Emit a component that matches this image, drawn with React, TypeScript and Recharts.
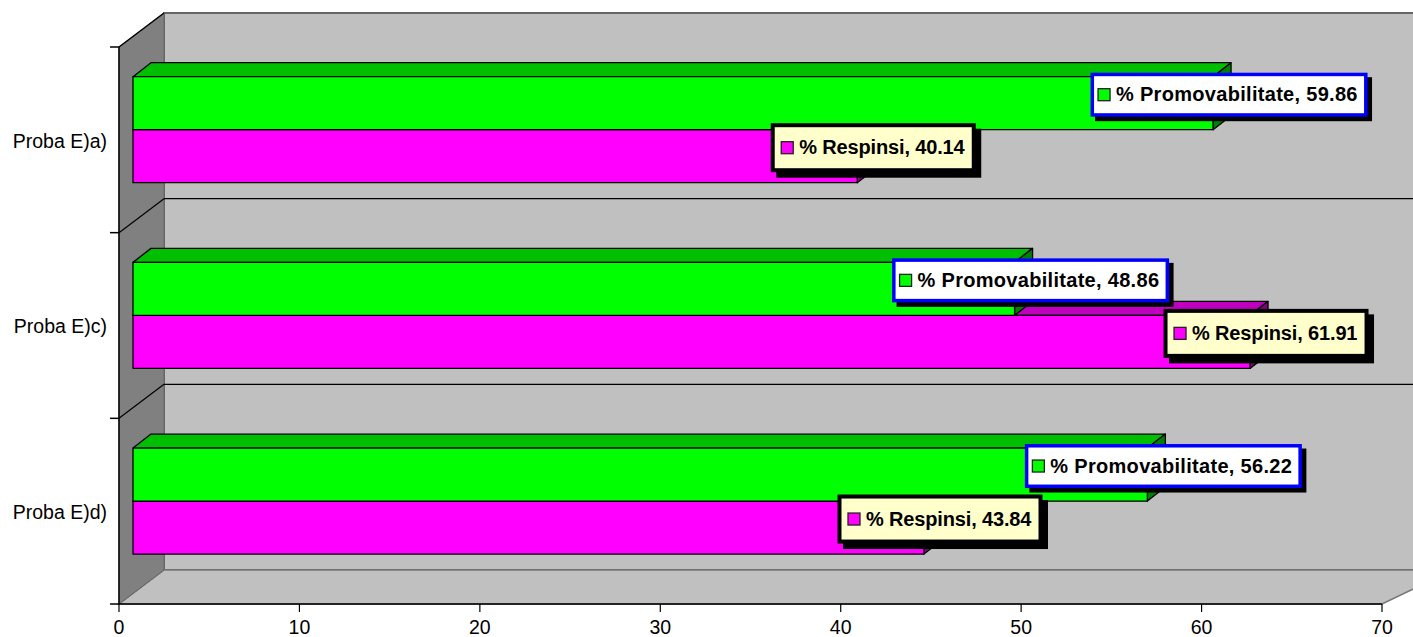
import React from "react";
import { BarChart, Bar, XAxis, YAxis, LabelList } from "recharts";

const categories = ["Proba E)a)", "Proba E)c)", "Proba E)d)"];
const promovabilitate = [59.86, 48.86, 56.22];
const respinsi = [40.14, 61.91, 43.84];
const xTicks = [0, 10, 20, 30, 40, 50, 60, 70];

const data = categories.map((name, i) => ({
  name,
  promovabilitate: promovabilitate[i],
  respinsi: respinsi[i],
}));

const WIDTH = 1413;
const HEIGHT = 637;
const FONT = "'Liberation Sans', Arial, sans-serif";

const LEFT = 119;
const TOP = 47;
const RIGHT = 1382;
const BOTTOM = 604;
// wall depth
const DX = 45;
const DY = 34;
// bar depth and shift off the wall
const BAR_DX = 18;
const BAR_DY = 14;
const SHIFT_X = 14;
const SHIFT_Y = -10.3;

const pts = (...p: number[][]) => p.map((q) => q.join(",")).join(" ");

function Walls() {
  const bandH = (BOTTOM - TOP) / categories.length;
  const inner = [1, 2].map((i) => TOP + bandH * i);
  return (
    <g>
      <rect x={LEFT + DX} y={TOP - DY} width={WIDTH - LEFT - DX + 10} height={BOTTOM - TOP} fill="#c0c0c0" stroke="#666" strokeWidth={2} />
      <polygon points={pts([LEFT, BOTTOM], [LEFT + DX, BOTTOM - DY], [WIDTH + 40, BOTTOM - DY], [RIGHT, BOTTOM])} fill="#c0c0c0" stroke="#777" strokeWidth={1.5} />
      <polygon points={pts([LEFT, TOP], [LEFT + DX, TOP - DY], [LEFT + DX, BOTTOM - DY], [LEFT, BOTTOM])} fill="#808080" stroke="#666" strokeWidth={1} />
      <line x1={LEFT} y1={TOP} x2={LEFT + DX} y2={TOP - DY} stroke="#000" strokeWidth={1.5} />
      {inner.map((y) => (
        <g key={y}>
          <line x1={LEFT + DX} y1={y - DY} x2={WIDTH} y2={y - DY} stroke="#000" strokeWidth={1.2} />
          <line x1={LEFT} y1={y} x2={LEFT + DX} y2={y - DY} stroke="#000" strokeWidth={1.2} />
        </g>
      ))}
      {[TOP, ...inner, BOTTOM].map((y) => (
        <line key={y} x1={LEFT - 9} y1={y} x2={LEFT} y2={y} stroke="#000" strokeWidth={1.5} />
      ))}
    </g>
  );
}

function makeBar(front: string, top: string, side: string) {
  return function Bar3D(props: any) {
    const { x, y, width, height } = props;
    const fx = x + SHIFT_X;
    const fy = y + SHIFT_Y;
    const ex = fx + width;
    const by = fy + height;
    return (
      <g stroke="#000" strokeWidth={1.3} strokeLinejoin="round">
        <polygon points={pts([fx, fy], [fx + BAR_DX, fy - BAR_DY], [ex + BAR_DX, fy - BAR_DY], [ex, fy])} fill={top} />
        <polygon points={pts([ex, fy], [ex + BAR_DX, fy - BAR_DY], [ex + BAR_DX, by - BAR_DY], [ex, by])} fill={side} />
        <rect x={fx} y={fy} width={width} height={height} fill={front} />
      </g>
    );
  };
}

function makeLabel(name: string, key: string, border: string, bg: string, w: number, h: number, bw: number, shadow: number, pad: number, spacing: number) {
  return function BarLabel(props: any) {
    const { x, y, width, height, value } = props;
    const cx = x + SHIFT_X + width + 16;
    const cy = y + SHIFT_Y + height / 2 - 8.5;
    const bx = cx - w / 2;
    const by = cy - h / 2;
    return (
      <g>
        <rect x={bx + shadow} y={by + shadow} width={w} height={h} fill="#000" />
        <rect x={bx + bw / 2} y={by + bw / 2} width={w - bw} height={h - bw} fill={bg} stroke={border} strokeWidth={bw} />
        <rect x={bx + pad} y={cy - 6} width={12} height={12} fill={key} stroke="#222" strokeWidth={1.3} />
        <text x={bx + pad + 18} y={cy + 6.5} fontFamily={FONT} fontSize={20} fontWeight="bold" letterSpacing={spacing} fill="#000">
          {`${name}, ${Number(value).toFixed(2)}`}
        </text>
      </g>
    );
  };
}

export default function App() {
  return (
    <div style={{ position: "absolute", left: 0, top: 0, width: WIDTH, height: HEIGHT, overflow: "hidden" }}>
      <BarChart
        width={WIDTH}
        height={HEIGHT}
        data={data}
        layout="vertical"
        barSize={53}
        barGap={0}
        margin={{ top: TOP, right: WIDTH - RIGHT, bottom: 0, left: 0 }}
      >
        <Walls />
        <XAxis
          type="number"
          domain={[0, 70]}
          ticks={xTicks}
          height={HEIGHT - BOTTOM}
          interval={0}
          tickSize={8}
          tickMargin={8}
          axisLine={{ stroke: "#000", strokeWidth: 1.5 }}
          tickLine={{ stroke: "#000", strokeWidth: 1.2 }}
          tick={{ fill: "#000", fontFamily: FONT, fontSize: 19.5 }}
        />
        <YAxis
          type="category"
          dataKey="name"
          width={LEFT}
          interval={0}
          tickLine={false}
          tickMargin={6}
          axisLine={{ stroke: "#000", strokeWidth: 1.5 }}
          tick={{ fill: "#000", fontFamily: FONT, fontSize: 19.5, dy: 1 }}
        />
        <Bar dataKey="promovabilitate" zIndex={301} isAnimationActive={false} shape={makeBar("#00ff00", "#00bf00", "#008000")}>
          <LabelList dataKey="promovabilitate" content={makeLabel("% Promovabilitate", "#00ff00", "#0000ff", "#fff", 277, 44, 3.5, 4.5, 7.5, 0.3)} />
        </Bar>
        <Bar dataKey="respinsi" zIndex={300} isAnimationActive={false} shape={makeBar("#ff00ff", "#bf00bf", "#800080")}>
          <LabelList dataKey="respinsi" content={makeLabel("% Respinsi", "#ff00ff", "#000", "#ffffcc", 205, 49, 4, 5.5, 10.5, -0.15)} />
        </Bar>
      </BarChart>
    </div>
  );
}
